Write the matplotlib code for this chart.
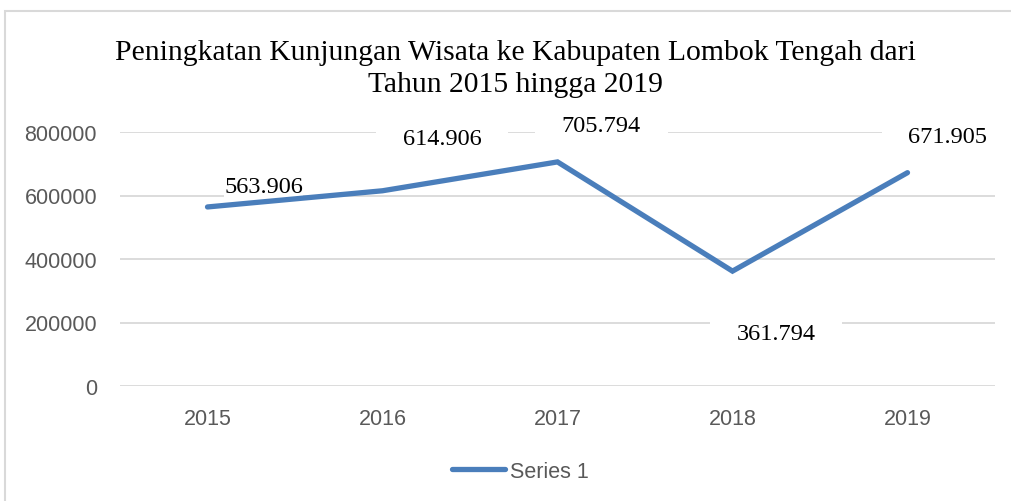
import matplotlib
matplotlib.use("Agg")
import matplotlib.pyplot as plt
from matplotlib.patches import Rectangle

# ---- data ----
years = ["2015", "2016", "2017", "2018", "2019"]
visits = [563906, 614906, 705794, 361794, 671905]
value_labels = ["563.906", "614.906", "705.794", "361.794", "671.905"]
yticks = [0, 200000, 400000, 600000, 800000]
series_name = "Series 1"
title = "Peningkatan Kunjungan Wisata ke Kabupaten Lombok Tengah dari\nTahun 2015 hingga 2019"

# label placement (layout only): (x offset in categories, y position in data units, pad)
label_layout = [(0.32, 627000, 0.0), (0.34, 778000, 1.1), (0.25, 819000, 1.1),
                (0.25, 164000, 1.1), (0.23, 787000, 1.1)]

W, H, DPI = 1011, 502, 100
fig = plt.figure(figsize=(W / DPI, H / DPI), dpi=DPI)
fig.patch.set_facecolor("white")

# chart border
fig.patches.append(Rectangle((5 / W, -0.1), 1.2, 1 - 12 / H + 0.1, transform=fig.transFigure,
                             fill=False, edgecolor="#d9d9d9", linewidth=1.5))

ax = fig.add_axes([120 / W, 1 - 387 / H, 875 / W, 254 / H])
x = list(range(len(years)))
line_color = "#4a7ebb"
ax.plot(x, visits, color=line_color, linewidth=3.8, solid_capstyle="round",
        solid_joinstyle="miter", zorder=5, label=series_name)

ax.set_xlim(-0.5, len(years) - 0.5)
ax.set_ylim(0, 800000)
ax.set_yticks(yticks)
ax.set_yticklabels([str(v) for v in yticks])
ax.set_xticks(x)
ax.set_xticklabels(years)
for s in ax.spines.values():
    s.set_visible(False)
ax.tick_params(length=0, labelsize=15.5, labelcolor="#595959")
ax.tick_params(axis="y", pad=16.5)
ax.tick_params(axis="x", pad=16)
for t in ax.get_xticklabels() + ax.get_yticklabels():
    t.set_fontfamily("Liberation Sans")
ax.yaxis.grid(True, color="#d9d9d9", linewidth=1.3, zorder=0)
ax.set_axisbelow(True)

for i, (lbl, (dx, yy, pad)) in enumerate(zip(value_labels, label_layout)):
    ax.text(i + dx, yy, lbl, ha="center", va="center", fontsize=17.5,
            family="Liberation Serif", color="black", zorder=4, clip_on=False,
            bbox=dict(boxstyle=f"square,pad={pad}", facecolor="white", edgecolor="none"))

fig.text(515 / W, 1 - 69 / H, title, ha="center", va="center", fontsize=21.3,
         family="Liberation Serif", color="black", linespacing=1.32)

leg = fig.legend(loc="center", bbox_to_anchor=(520 / W, 1 - 472 / H), frameon=False,
                 prop={"family": "Liberation Sans", "size": 15.5}, handlelength=2.5,
                 handletextpad=0.2, labelcolor="#595959")

fig.savefig("out.png", dpi=DPI, facecolor="white")
